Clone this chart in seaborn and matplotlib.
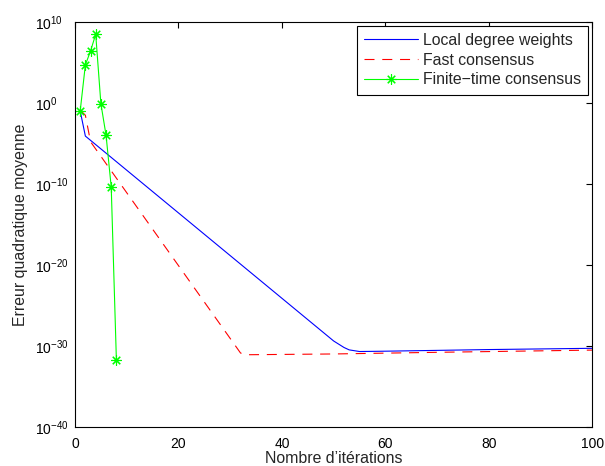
import numpy as np
import pandas as pd
import seaborn as sns
import matplotlib.pyplot as plt
from matplotlib.ticker import FixedLocator, LogFormatterMathtext, NullLocator

# valeurs (erreur quadratique moyenne)
iter_local = [1, 2, 50, 52, 53, 55, 60, 80, 100]
err_local = [1e-1, 8e-5, 4e-30, 6.3e-31, 3.2e-31, 2e-31, 2.2e-31, 3.5e-31, 5e-31]

iter_fast = [1, 2, 3, 32, 33, 50, 70, 100]
err_fast = [1.3e-1, 3e-2, 1.6e-5, 1.3e-31, 8e-32, 1e-31, 1.6e-31, 3e-31]

iter_finite = [1, 2, 3, 4, 5, 6, 7, 8]
err_finite = [1e-1, 5e4, 2.5e6, 3e8, 8e-1, 1e-4, 4e-11, 1.6e-32]

sns.set_theme(style="white")
plt.rcParams['font.family'] = ['Liberation Sans', 'DejaVu Sans']

fig = plt.figure(figsize=(6.05, 4.66), dpi=100)
ax = fig.add_axes([0.124, 0.084, 0.855, 0.869])

df_local = pd.DataFrame({"it": iter_local, "err": err_local})
df_fast = pd.DataFrame({"it": iter_fast, "err": err_fast})
df_finite = pd.DataFrame({"it": iter_finite, "err": err_finite})

sns.lineplot(data=df_local, x="it", y="err", ax=ax, color="blue", lw=0.8,
             label="Local degree weights")
sns.lineplot(data=df_fast, x="it", y="err", ax=ax, color="red", lw=0.8,
             linestyle=(0, (9, 7)), label="Fast consensus")
sns.lineplot(data=df_finite, x="it", y="err", ax=ax, color="#00ff00", lw=0.8,
             marker=(8, 2, 0), markersize=7.5, markeredgewidth=0.8,
             markeredgecolor="#00ff00", label="Finite\u2212time consensus")

ax.set_yscale("log")
ax.set_xlim(0, 100)
ax.set_ylim(1e-40, 1e10)
ax.set_xticks([0, 20, 40, 60, 80, 100])
ax.yaxis.set_major_locator(FixedLocator([1e-40, 1e-30, 1e-20, 1e-10, 1e0, 1e10]))
ax.yaxis.set_major_formatter(LogFormatterMathtext())
ax.yaxis.set_minor_locator(NullLocator())
ax.tick_params(axis="both", which="major", direction="in", length=4, width=0.8,
               top=True, right=True, labelsize=10, colors="black")
ax.tick_params(axis="x", pad=7.5)
# étiquettes y alignées à gauche comme dans MATLAB
ax.tick_params(axis="y", pad=29)
for lab in ax.get_yticklabels():
    lab.set_horizontalalignment("left")
for s in ax.spines.values():
    s.set_color("black")
    s.set_linewidth(0.8)

ax.set_xlabel("Nombre d\u2019itérations", fontsize=11.4, labelpad=0)
ax.set_ylabel("Erreur quadratique moyenne", fontsize=11.4, labelpad=5)

leg = ax.legend(loc="upper right", fancybox=False, edgecolor="black",
                framealpha=1, fontsize=11.4, handlelength=3.4, handletextpad=0.35,
                borderaxespad=0.25, labelspacing=0.3, borderpad=0.45)
leg.get_frame().set_linewidth(0.8)

plt.savefig("out.png", dpi=100)
